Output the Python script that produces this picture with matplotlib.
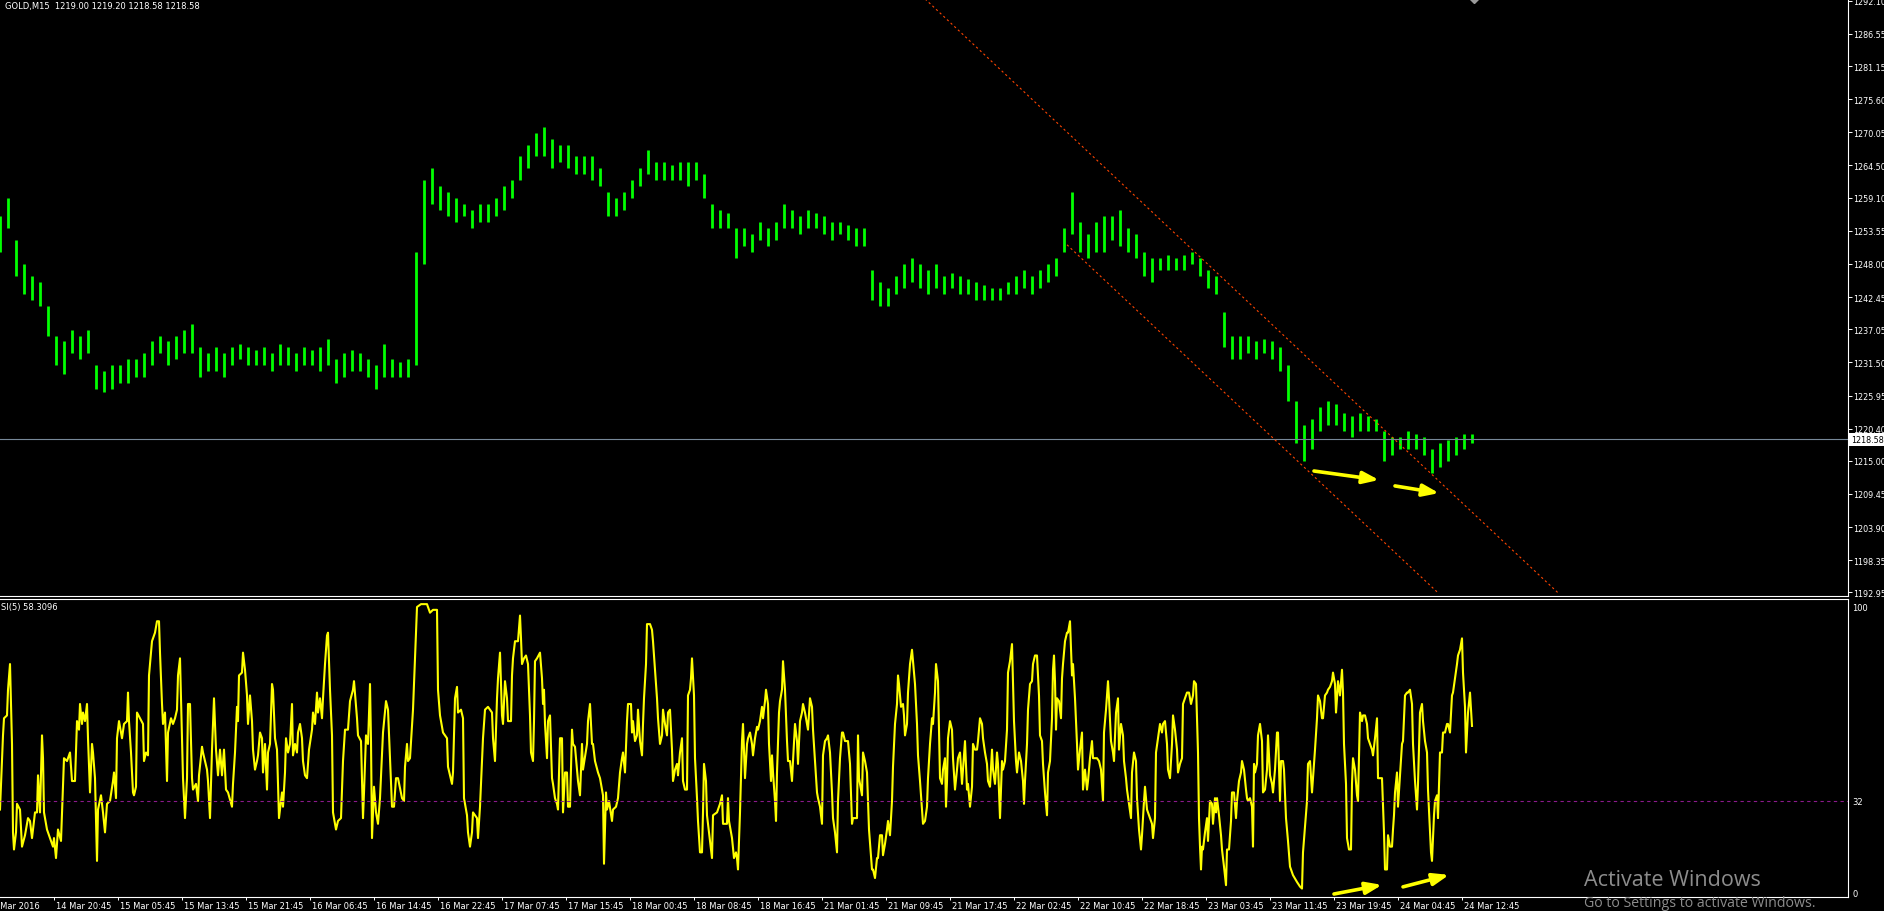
import numpy as np
import matplotlib.pyplot as plt

plt.rcParams['font.family'] = ['DejaVu Sans']

# GOLD M15 header values
symbol = "GOLD,M15"
last_ohlc = [1219.00, 1219.20, 1218.58, 1218.58]
last_price = 1218.58

# price read hour by hour (4 M15 bars per value): lows and highs
lo = [
    1250, 1254, 1246, 1243, 1242, 1241, 1236, 1231, 1229.5, 1233,
    1232, 1233, 1227, 1226.5, 1227, 1228, 1228, 1229, 1229, 1231,
    1233, 1231, 1232, 1233, 1233, 1229, 1230, 1230, 1229, 1231,
    1232, 1231, 1231, 1231, 1230, 1231, 1231, 1230, 1231, 1231,
    1230, 1231, 1228, 1229, 1230, 1230, 1229, 1227, 1229, 1229,
    1229, 1229, 1231, 1248, 1258, 1257, 1256, 1255, 1256, 1254,
    1255, 1255, 1256, 1257, 1259, 1262, 1264, 1266, 1266, 1264,
    1265, 1264, 1263, 1263, 1262, 1261, 1256, 1256, 1257, 1259,
    1261, 1263, 1262, 1262, 1262, 1262, 1261, 1262, 1259, 1254,
    1254, 1254, 1249, 1251, 1250, 1252, 1251, 1252, 1254, 1254,
    1253, 1254, 1254, 1253, 1252, 1253, 1252, 1251, 1251, 1242,
    1241, 1241, 1243, 1244, 1245, 1244, 1243, 1244, 1243, 1244,
    1243, 1243, 1242, 1242, 1242, 1242, 1243, 1243, 1244, 1243,
    1244, 1245, 1246, 1250, 1253, 1250, 1249, 1250, 1250, 1252,
    1251, 1250, 1249, 1246, 1245, 1247, 1247, 1247, 1247, 1248,
    1246, 1244, 1243, 1234, 1232, 1232, 1233, 1232, 1233, 1232,
    1230, 1225, 1218, 1215, 1217, 1220, 1221, 1221, 1220, 1219,
    1220, 1220, 1220, 1215, 1216, 1217, 1217, 1217, 1216, 1213,
    1214, 1215, 1216, 1217, 1218,
]
hi = [
    1256, 1259, 1252, 1248, 1246, 1245, 1241, 1236, 1235, 1237,
    1236, 1237, 1231, 1230, 1231, 1231, 1232, 1232, 1233, 1235,
    1236, 1235, 1236, 1237, 1238, 1234, 1233, 1234, 1233, 1234,
    1234.5, 1234, 1233.5, 1234, 1233, 1234.5, 1234, 1233, 1234, 1233.5,
    1234, 1235.5, 1232, 1233, 1233.5, 1233, 1232, 1231, 1234.5, 1232,
    1231.5, 1232, 1250, 1262, 1264, 1261, 1260, 1259, 1258, 1257,
    1258, 1258, 1259, 1261, 1262, 1266, 1268, 1270, 1271, 1269,
    1268, 1268, 1266, 1266, 1266, 1264, 1260, 1259, 1260, 1262,
    1264, 1267, 1265, 1265, 1264.5, 1265, 1265, 1265, 1263, 1258,
    1257, 1256.5, 1254, 1254, 1253, 1255, 1254, 1255, 1258, 1257,
    1256, 1257, 1256.5, 1256, 1255, 1255, 1254.5, 1254, 1254, 1247,
    1245, 1244, 1246, 1248, 1249, 1248, 1247, 1248, 1246, 1246.5,
    1246, 1245.5, 1245, 1244.5, 1244, 1244, 1245, 1246, 1247, 1246,
    1247, 1248, 1249, 1254, 1260, 1255, 1253, 1255, 1256, 1256,
    1257, 1254, 1253, 1250, 1249, 1249, 1249.5, 1249, 1249.5, 1250,
    1249, 1247, 1246, 1240, 1236, 1236, 1236, 1235, 1235.5, 1235,
    1234, 1231, 1225, 1221, 1222, 1224, 1225, 1224.5, 1223, 1222.5,
    1223, 1222.5, 1222, 1220, 1219, 1219, 1220, 1219.5, 1219, 1217,
    1218, 1218.5, 1219, 1219.5, 1219.5,
]

# SI(5) turning points: M15 bar index and value, 14-17 Mar
si_bar_a = [
    0, 1.5, 2, 3.5, 4, 5, 6, 6.5, 7, 8,
    8.5, 10, 11, 12.5, 14, 15, 16, 17.5, 18.5, 19,
    20, 21, 21.5, 22, 23.5, 25, 26.5, 27, 28, 29,
    30.5, 31, 32, 33.5, 35, 36, 37.5, 38.5, 39.5, 40,
    41, 41.5, 42.5, 43.5, 44, 45, 46, 46.5, 47.5, 48.5,
    49, 50.5, 51.5, 52.5, 53.5, 55, 56.5, 57, 58, 58.5,
    59.5, 61, 62, 63.5, 64, 64.5, 65.5, 66.5, 67, 68,
    68.5, 70, 71.5, 72, 73, 74, 74.5, 76, 77.5, 78.5,
    79.5, 80, 81, 81.5, 82.5, 83.5, 84, 85.5, 86.5, 87.5,
    88.5, 89, 90, 91, 91.5, 92.5, 93.5, 94, 95, 96,
    96.5, 98, 99, 99.5, 101, 101.5, 103.5, 104, 105, 106,
    106.5, 107, 108, 109, 110, 111, 112, 113, 114, 116,
    116.5, 117.5, 118.5, 119, 119.5, 121, 121.5, 122.5, 123.5, 124,
    125, 126, 126.5, 127.5, 128.5, 129, 130, 131, 131.5, 132.5,
    133.5, 134, 135, 136, 136.5, 137.5, 138.5, 139.5, 141, 141.5,
    142.5, 143, 144, 145, 146, 146.5, 147.5, 148.5, 149, 150,
    151, 151.5, 152.5, 153.5, 154.5, 156, 156.5, 157.5, 158.5, 159,
    160, 161, 161.5, 162.5, 163.5, 164, 165, 166, 166.5, 168,
    169, 170.5, 171.5, 172.5, 174, 175, 176.5, 177, 178.5, 179,
    180.5, 181.5, 182, 183, 184, 185, 185.5, 186, 187, 188,
    189, 190, 191.5, 193, 194, 195, 196, 197, 198, 199,
    201, 202, 202.5, 203.5, 204, 205, 206.5, 207.5, 208.5, 210.5,
    213.5, 215, 216.5, 218.5, 219, 220, 221.5, 223.5, 224, 226,
    226.5, 227.5, 228.5, 229, 230.5, 231.5, 232, 233.5, 234, 235,
    236, 236.5, 238.5, 239, 240, 241.5, 242.5, 244, 246, 246.5,
    247.5, 248.5, 249, 250,
]
si_val_a = [
    29, 55, 61, 62, 71, 80, 52, 21, 15, 21,
    31, 29, 16, 20, 26, 25, 19, 28, 28, 41,
    28, 55, 47, 28, 22, 19, 16, 19, 12, 22,
    18, 28, 47, 46, 49, 39, 39, 60, 57, 66,
    59, 63, 60, 66, 54, 35, 52, 49, 40, 11,
    29, 34, 28, 21, 31, 32, 39, 42, 33, 54,
    60, 54, 59, 60, 70, 60, 49, 35, 34, 37,
    63, 61, 59, 46, 49, 48, 76, 88, 91, 95,
    95, 84, 66, 59, 63, 39, 56, 61, 59, 61,
    64, 76, 82, 55, 40, 26, 40, 66, 66, 40,
    36, 38, 32, 41, 51, 49, 43, 39, 26, 50,
    59, 68, 50, 41, 50, 41, 50, 36, 35, 30,
    38, 49, 65, 60, 76, 77, 84, 78, 69, 59,
    69, 60, 50, 43, 46, 48, 56, 54, 42, 52,
    36, 49, 52, 73, 71, 54, 50, 26, 35, 30,
    42, 54, 49, 52, 66, 48, 52, 49, 56, 59,
    54, 46, 41, 40, 50, 57, 63, 59, 70, 63,
    68, 61, 68, 80, 90, 91, 71, 55, 28, 22,
    25, 26, 46, 57, 57, 67, 71, 74, 61, 55,
    53, 26, 35, 55, 52, 73, 53, 19, 37, 28,
    24, 33, 56, 67, 64, 47, 30, 30, 40, 40,
    33, 32, 44, 52, 46, 47, 64, 82, 100, 101,
    101, 98, 99, 99, 71, 62, 56, 54, 44, 38,
    42, 68, 72, 63, 64, 61, 33, 27, 21, 16,
    21, 28, 26, 19, 30, 54, 64, 65, 63, 54,
    46, 68, 75, 84,
]

# SI(5), 17-22 Mar
si_bar_b = [
    251, 251.5, 252.5, 253.5, 254, 255.5, 256, 256.5, 257.5, 259,
    260, 260.5, 261, 262, 263, 264, 265, 265.5, 266.5, 267,
    267.5, 268.5, 270, 271, 271.5, 272, 272.5, 273.5, 274, 275,
    276, 276.5, 277.5, 278.5, 279, 280, 281, 281.5, 282.5, 283.5,
    284, 285, 286, 286.5, 287.5, 288.5, 289, 290, 291, 291.5,
    293.5, 294, 295, 296, 296.5, 297.5, 299, 300, 301.5, 302,
    303, 303.5, 304.5, 306, 306.5, 308, 309, 310, 311, 311.5,
    312.5, 313.5, 314, 315.5, 316, 316.5, 317.5, 318.5, 319, 320,
    321, 321.5, 322, 323, 323.5, 325, 326, 326.5, 327.5, 328.5,
    329, 330, 331, 331.5, 332.5, 333.5, 334, 335, 336, 336.5,
    337.5, 338.5, 339, 340, 341, 341.5, 342.5, 343.5, 344, 345,
    345.5, 346, 347, 347.5, 348.5, 349, 350, 351, 351.5, 352,
    353, 353.5, 354.5, 356, 356.5, 358.5, 360, 361, 361.5, 363.5,
    364, 364.5, 366, 367, 368, 368.5, 369, 370, 371, 371.5,
    372.5, 373.5, 374, 375, 376, 376.5, 377.5, 378.5, 379, 380,
    381, 381.5, 382.5, 383, 384, 384.5, 385.5, 386, 386.5, 387.5,
    388, 388.5, 389.5, 390, 391, 391.5, 392.5, 393.5, 394, 395,
    396, 396.5, 397.5, 398.5, 399, 400, 401, 401.5, 402.5, 403.5,
    404, 405, 406, 406.5, 407.5, 408.5, 409, 410, 411, 411.5,
    412.5, 413.5, 414, 415, 416, 416.5, 417.5, 418.5, 419, 420,
    421, 421.5, 422.5, 424, 425, 426, 426.5, 428.5, 429, 429.5,
    431, 431.5, 432.5, 433.5, 434, 434.5, 436, 436.5, 437.5, 438.5,
    439, 440, 441, 441.5, 442.5, 443.5, 444, 445, 446, 446.5,
    447.5, 448.5, 449, 449.5, 450.5, 451.5, 452, 452.5, 453.5, 454,
    455, 456, 456.5, 457.5, 458.5, 459, 460, 461, 461.5, 462.5,
    463.5, 464, 465, 466, 466.5, 467.5, 468, 469, 469.5, 470,
    471, 471.5, 472.5, 473, 473.5, 474, 475, 476, 476.5, 477.5,
    478.5, 479, 480, 481, 481.5, 482.5, 483.5, 484, 485, 486,
    486.5, 487.5, 488.5, 489, 490,
]
si_val_b = [
    62, 59, 74, 68, 60, 60, 76, 82, 88, 88,
    97, 89, 80, 82, 83, 80, 62, 49, 46, 60,
    81, 82, 84, 75, 66, 71, 59, 47, 60, 62,
    40, 38, 33, 31, 29, 54, 54, 28, 42, 42,
    30, 30, 57, 52, 51, 43, 39, 34, 52, 43,
    52, 60, 66, 52, 52, 46, 42, 40, 34, 10,
    35, 29, 32, 25, 29, 30, 33, 42, 47, 49,
    42, 60, 66, 66, 56, 60, 53, 55, 64, 53,
    48, 59, 68, 80, 94, 94, 92, 88, 78, 68,
    61, 52, 55, 64, 59, 55, 63, 64, 50, 39,
    43, 45, 41, 49, 54, 39, 36, 36, 69, 71,
    75, 82, 69, 47, 33, 25, 14, 14, 28, 45,
    39, 27, 21, 12, 27, 28, 31, 34, 24, 24,
    33, 25, 19, 12, 14, 12, 8, 28, 53, 59,
    40, 52, 54, 56, 52, 48, 54, 58, 57, 60,
    65, 61, 67, 71, 66, 52, 39, 48, 42, 32,
    25, 42, 63, 67, 71, 81, 71, 53, 46, 46,
    39, 46, 59, 53, 45, 60, 63, 66, 63, 59,
    57, 68, 65, 57, 46, 35, 33, 30, 24, 48,
    53, 54, 55, 49, 35, 26, 21, 14, 32, 47,
    56, 56, 53, 53, 45, 24, 26, 26, 55, 40,
    34, 49, 46, 42, 32, 22, 8, 8, 5, 12,
    12, 20, 20, 13, 17, 22, 25, 20, 32, 44,
    59, 66, 76, 73, 65, 66, 62, 55, 59, 70,
    80, 85, 81, 73, 59, 48, 39, 29, 24, 25,
    30, 40, 52, 61, 59, 70, 80, 74, 57, 40,
    38, 43, 47, 30, 39, 54, 60, 57, 47, 36,
    43, 47, 49, 38, 43, 53, 36, 38, 30, 37,
    52, 50, 50, 53, 61,
]

# SI(5), 22-24 Mar
si_bar_c = [
    491, 491.5, 492.5, 493.5, 494, 495, 496, 496.5, 497.5, 498.5,
    499, 500, 501, 501.5, 502.5, 503.5, 504, 505, 506, 507,
    508, 508.5, 509.5, 510.5, 511.5, 512, 512.5, 513.5, 514, 515,
    516, 516.5, 517.5, 518.5, 519.5, 520, 521, 521.5, 522.5, 523.5,
    524, 525, 526, 526.5, 527, 527.5, 528, 528.5, 529.5, 530.5,
    531, 531.5, 532.5, 533.5, 534, 535, 536, 536.5, 537.5, 538.5,
    539, 540, 541, 541.5, 542.5, 543.5, 544, 545, 546, 546.5,
    548.5, 549.5, 550.5, 551.5, 552, 553, 554, 554.5, 555.5, 556.5,
    557, 558, 559, 559.5, 560.5, 561.5, 562, 563, 563.5, 564.5,
    565.5, 566, 567, 568, 568.5, 569.5, 570.5, 571, 572, 572.5,
    573.5, 575, 576, 576.5, 577.5, 578, 579, 580, 581, 581.5,
    582.5, 583.5, 584, 585, 586, 586.5, 587.5, 588.5, 589, 590,
    591, 591.5, 592.5, 593.5, 594.5, 595.5, 596.5, 597, 598, 599,
    599.5, 600, 600.5, 601, 601.5, 602.5, 603.5, 604, 605, 606,
    606.5, 607.5, 608, 608.5, 609.5, 610.5, 611, 612, 613, 613.5,
    614.5, 615.5, 616, 617, 618, 618.5, 619.5, 620.5, 621, 622,
    623, 623.5, 624, 625, 626, 626.5, 627, 627.5, 628.5, 629,
    630, 631, 631.5, 632.5, 633.5, 634, 635, 636, 636.5, 637.5,
    638.5, 639, 640, 640.5, 641.5, 642, 643, 644, 645, 646.5,
    648.5, 650, 651, 651.5, 652.5, 653.5, 654, 655, 656, 656.5,
    657.5, 658.5, 659, 660, 661, 661.5, 662.5, 663.5, 664, 665,
    666, 666.5, 667.5, 668, 668.5, 669, 670, 671, 671.5, 672,
    673, 673.5, 674.5, 675.5, 676, 676.5, 677.5, 678.5, 679, 680,
    681, 681.5, 682.5, 683.5, 684, 685, 686, 686.5, 687.5, 688.5,
    689, 690, 691, 692, 692.5, 693.5, 694, 695, 696, 696.5,
    697, 697.5, 698.5, 699, 700, 701, 701.5, 702.5, 703.5, 704,
    705, 706, 706.5, 707.5, 708.5, 709, 710, 711, 711.5, 712.5,
    713.5, 714, 715, 715.5, 716, 717, 717.5, 718.5, 719, 720,
    721, 721.5, 722.5, 723.5, 724, 725, 726, 726.5, 727.5, 728.5,
    729, 730, 731, 731.5, 732.5, 733, 733.5, 734, 735, 736,
]
si_val_c = [
    59, 54, 49, 45, 39, 37, 50, 43, 38, 49,
    45, 26, 46, 43, 46, 57, 77, 81, 87, 60,
    46, 42, 49, 46, 39, 31, 39, 52, 64, 73,
    74, 80, 83, 83, 69, 55, 53, 45, 35, 27,
    42, 46, 61, 78, 83, 74, 57, 68, 67, 61,
    75, 80, 88, 91, 91, 95, 76, 80, 68, 52,
    43, 50, 56, 36, 43, 36, 39, 47, 53, 47,
    47, 46, 43, 32, 56, 64, 74, 68, 53, 49,
    46, 63, 68, 50, 59, 55, 46, 40, 36, 31,
    26, 42, 49, 46, 33, 22, 15, 20, 32, 37,
    29, 26, 24, 19, 26, 49, 54, 59, 56, 59,
    60, 52, 43, 40, 52, 62, 57, 50, 42, 45,
    47, 66, 68, 70, 70, 66, 69, 74, 73, 49,
    26, 16, 8, 16, 15, 21, 26, 18, 32, 31,
    24, 33, 28, 33, 27, 20, 15, 9, 2.5, 15,
    15, 25, 35, 35, 26, 32, 39, 42, 46, 43,
    36, 33, 32, 33, 30, 16, 45, 42, 45, 55,
    59, 53, 35, 36, 43, 55, 41, 38, 35, 43,
    56, 56, 32, 46, 46, 43, 26, 18, 9, 6,
    3.6, 2, 1.3, 14, 23, 32, 45, 46, 35, 40,
    50, 61, 69, 67, 61, 61, 69, 70, 71, 72,
    74, 77, 73, 63, 68, 74, 69, 78, 70, 52,
    38, 19, 15, 15, 38, 47, 43, 34, 32, 63,
    60, 62, 62, 59, 54, 52, 50, 48, 54, 61,
    40, 40, 40, 21, 8, 8, 20, 16, 16, 22,
    27, 35, 42, 30, 41, 52, 53, 69, 70, 70,
    71, 66, 52, 39, 29, 38, 63, 66, 60, 53,
    49, 36, 21, 14, 11, 27, 32, 34, 26, 49,
    49, 56, 56, 59, 59, 56, 69, 70, 75, 80,
    83, 85, 89, 77, 65, 49, 56, 63, 70, 58.31,
]
si_last = "58.3096"
si_level = 32

price_ticks = [1192.95, 1198.35, 1203.90, 1209.45, 1215.00, 1220.40, 1225.95,
               1231.50, 1237.05, 1242.45, 1248.00, 1253.55, 1259.10, 1264.50,
               1270.05, 1275.60, 1281.15, 1286.55, 1292.10]
si_ticks = [0, 32, 100]

time_labels = ["14 Mar 2016", "14 Mar 20:45", "15 Mar 05:45", "15 Mar 13:45",
               "15 Mar 21:45", "16 Mar 06:45", "16 Mar 14:45", "16 Mar 22:45",
               "17 Mar 07:45", "17 Mar 15:45", "18 Mar 00:45", "18 Mar 08:45",
               "18 Mar 16:45", "21 Mar 01:45", "21 Mar 09:45", "21 Mar 17:45",
               "22 Mar 02:45", "22 Mar 10:45", "22 Mar 18:45", "23 Mar 03:45",
               "23 Mar 11:45", "23 Mar 19:45", "24 Mar 04:45", "24 Mar 12:45"]
first_label_bar = -5
label_step = 32

# drawn objects: channel anchors (bar, price) and arrows
chan_upper_bar = [462.5, 779]
chan_upper_price = [1292.4, 1192.9]
chan_lower_bar = [533.5, 719]
chan_lower_price = [1251.2, 1192.9]
price_arrows = [((657, 1213.3), (689.5, 1211.8)), ((697.5, 1210.8), (719.5, 1209.6))]
si_arrows = [((667, -0.6), (691, 2.6)), ((701.5, 1.9), (724.5, 6.1))]

W, H = 1884, 912
fig = plt.figure(figsize=(W / 100, H / 100), dpi=100, facecolor='black')
ax = fig.add_axes([0, 1 - 597 / H, 1848 / W, 597 / H], facecolor='black')
ax2 = fig.add_axes([0, 1 - 898 / H, 1848 / W, 298 / H], facecolor='black')

# price panel
bars = np.arange(len(lo)) * 4
ax.vlines(bars, lo, hi, colors='#00ff00', lw=2.0)
ax.axhline(last_price, color='#778899', lw=0.8)
ax.plot(chan_upper_bar, chan_upper_price, color='#ff4500', lw=0.8, dashes=(2, 2.5))
ax.plot(chan_lower_bar, chan_lower_price, color='#ff4500', lw=0.8, dashes=(2, 2.5))
for tail, head in price_arrows:
    ax.annotate('', xy=head, xytext=tail,
                arrowprops=dict(arrowstyle='-|>,head_length=0.8,head_width=0.3',
                                color='#ffff00', lw=2.6, mutation_scale=12,
                                shrinkA=0, shrinkB=0))
ax.set_xlim(0, 924)
ax.set_ylim(1192.36, 1292.38)
ax.plot([bars[-1] + 1], [1292.38], marker='D', color='#9a9a9a', ms=4.5, clip_on=False)

for s in ['left', 'top']:
    ax.spines[s].set_visible(False)
for s in ['right', 'bottom']:
    ax.spines[s].set_color('white')
    ax.spines[s].set_linewidth(0.8)
ax.set_xticks([])
ax.yaxis.tick_right()
ax.set_yticks(price_ticks)
ax.set_yticklabels([f'{v:.2f}' for v in price_ticks])
ax.tick_params(axis='y', colors='white', labelsize=5.8, length=2.9, width=0.7, pad=1.0)

ax.text(1.0 + 3 / 1848, last_price, f'{last_price:.2f}', transform=ax.get_yaxis_transform(),
        ha='left', va='center', fontsize=5.8, color='black', clip_on=False,
        bbox=dict(boxstyle='square,pad=0.2', fc='white', ec='none'))

# SI panel
si_bar = np.array(si_bar_a + si_bar_b + si_bar_c)
si_val = np.array(si_val_a + si_val_b + si_val_c)
ax2.plot(si_bar, si_val, color='#ffff00', lw=1.5)
ax2.axhline(si_level, color='#8b1a8b', lw=0.8, dashes=(3, 3))
for tail, head in si_arrows:
    ax2.annotate('', xy=head, xytext=tail, annotation_clip=False,
                 arrowprops=dict(arrowstyle='-|>,head_length=0.8,head_width=0.3',
                                 color='#ffff00', lw=2.6, mutation_scale=12,
                                 shrinkA=0, shrinkB=0))
ax2.set_xlim(0, 924)
ax2.set_ylim(-1.65, 102.8)
ax2.spines['left'].set_visible(False)
for s in ['right', 'bottom', 'top']:
    ax2.spines[s].set_color('white')
    ax2.spines[s].set_linewidth(0.8)
ax2.yaxis.tick_right()
ax2.set_yticks(si_ticks)
ax2.set_yticklabels([str(v) for v in si_ticks])
ax2.tick_params(axis='y', colors='white', labelsize=6, length=0, pad=3)

label_pos = [first_label_bar + label_step * k for k in range(len(time_labels))]
ax2.set_xticks(label_pos[1:])
ax2.tick_params(axis='x', colors='white', length=2.2, width=0.7, labelbottom=False)
for k, (pos, lbl) in enumerate(zip(label_pos, time_labels)):
    shift = -1.5 if k == 0 else 1
    ax2.text(pos + shift, -4.5 / 298, lbl, transform=ax2.get_xaxis_transform(),
             ha='left', va='top', fontsize=6, color='white', clip_on=False)

# header texts
header = symbol + "  " + " ".join(f'{v:.2f}' for v in last_ohlc)
fig.text(5 / W, 1 - 7 / H, header, fontsize=6, color='white', va='center')
fig.text(1 / W, 1 - 608 / H, f'SI(5) {si_last}', fontsize=6, color='white', va='center')

fig.text(1584 / W, 1 - 881 / H, 'Activate Windows', fontsize=15.5, color='#8c8c8c',
         family='Open Sans', va='center')
fig.text(1584 / W, 1 - 904 / H, 'Go to Settings to activate Windows.', fontsize=10.2,
         color='#8c8c8c', family='Open Sans', va='center')

fig.savefig('out.png', dpi=100, facecolor='black')
